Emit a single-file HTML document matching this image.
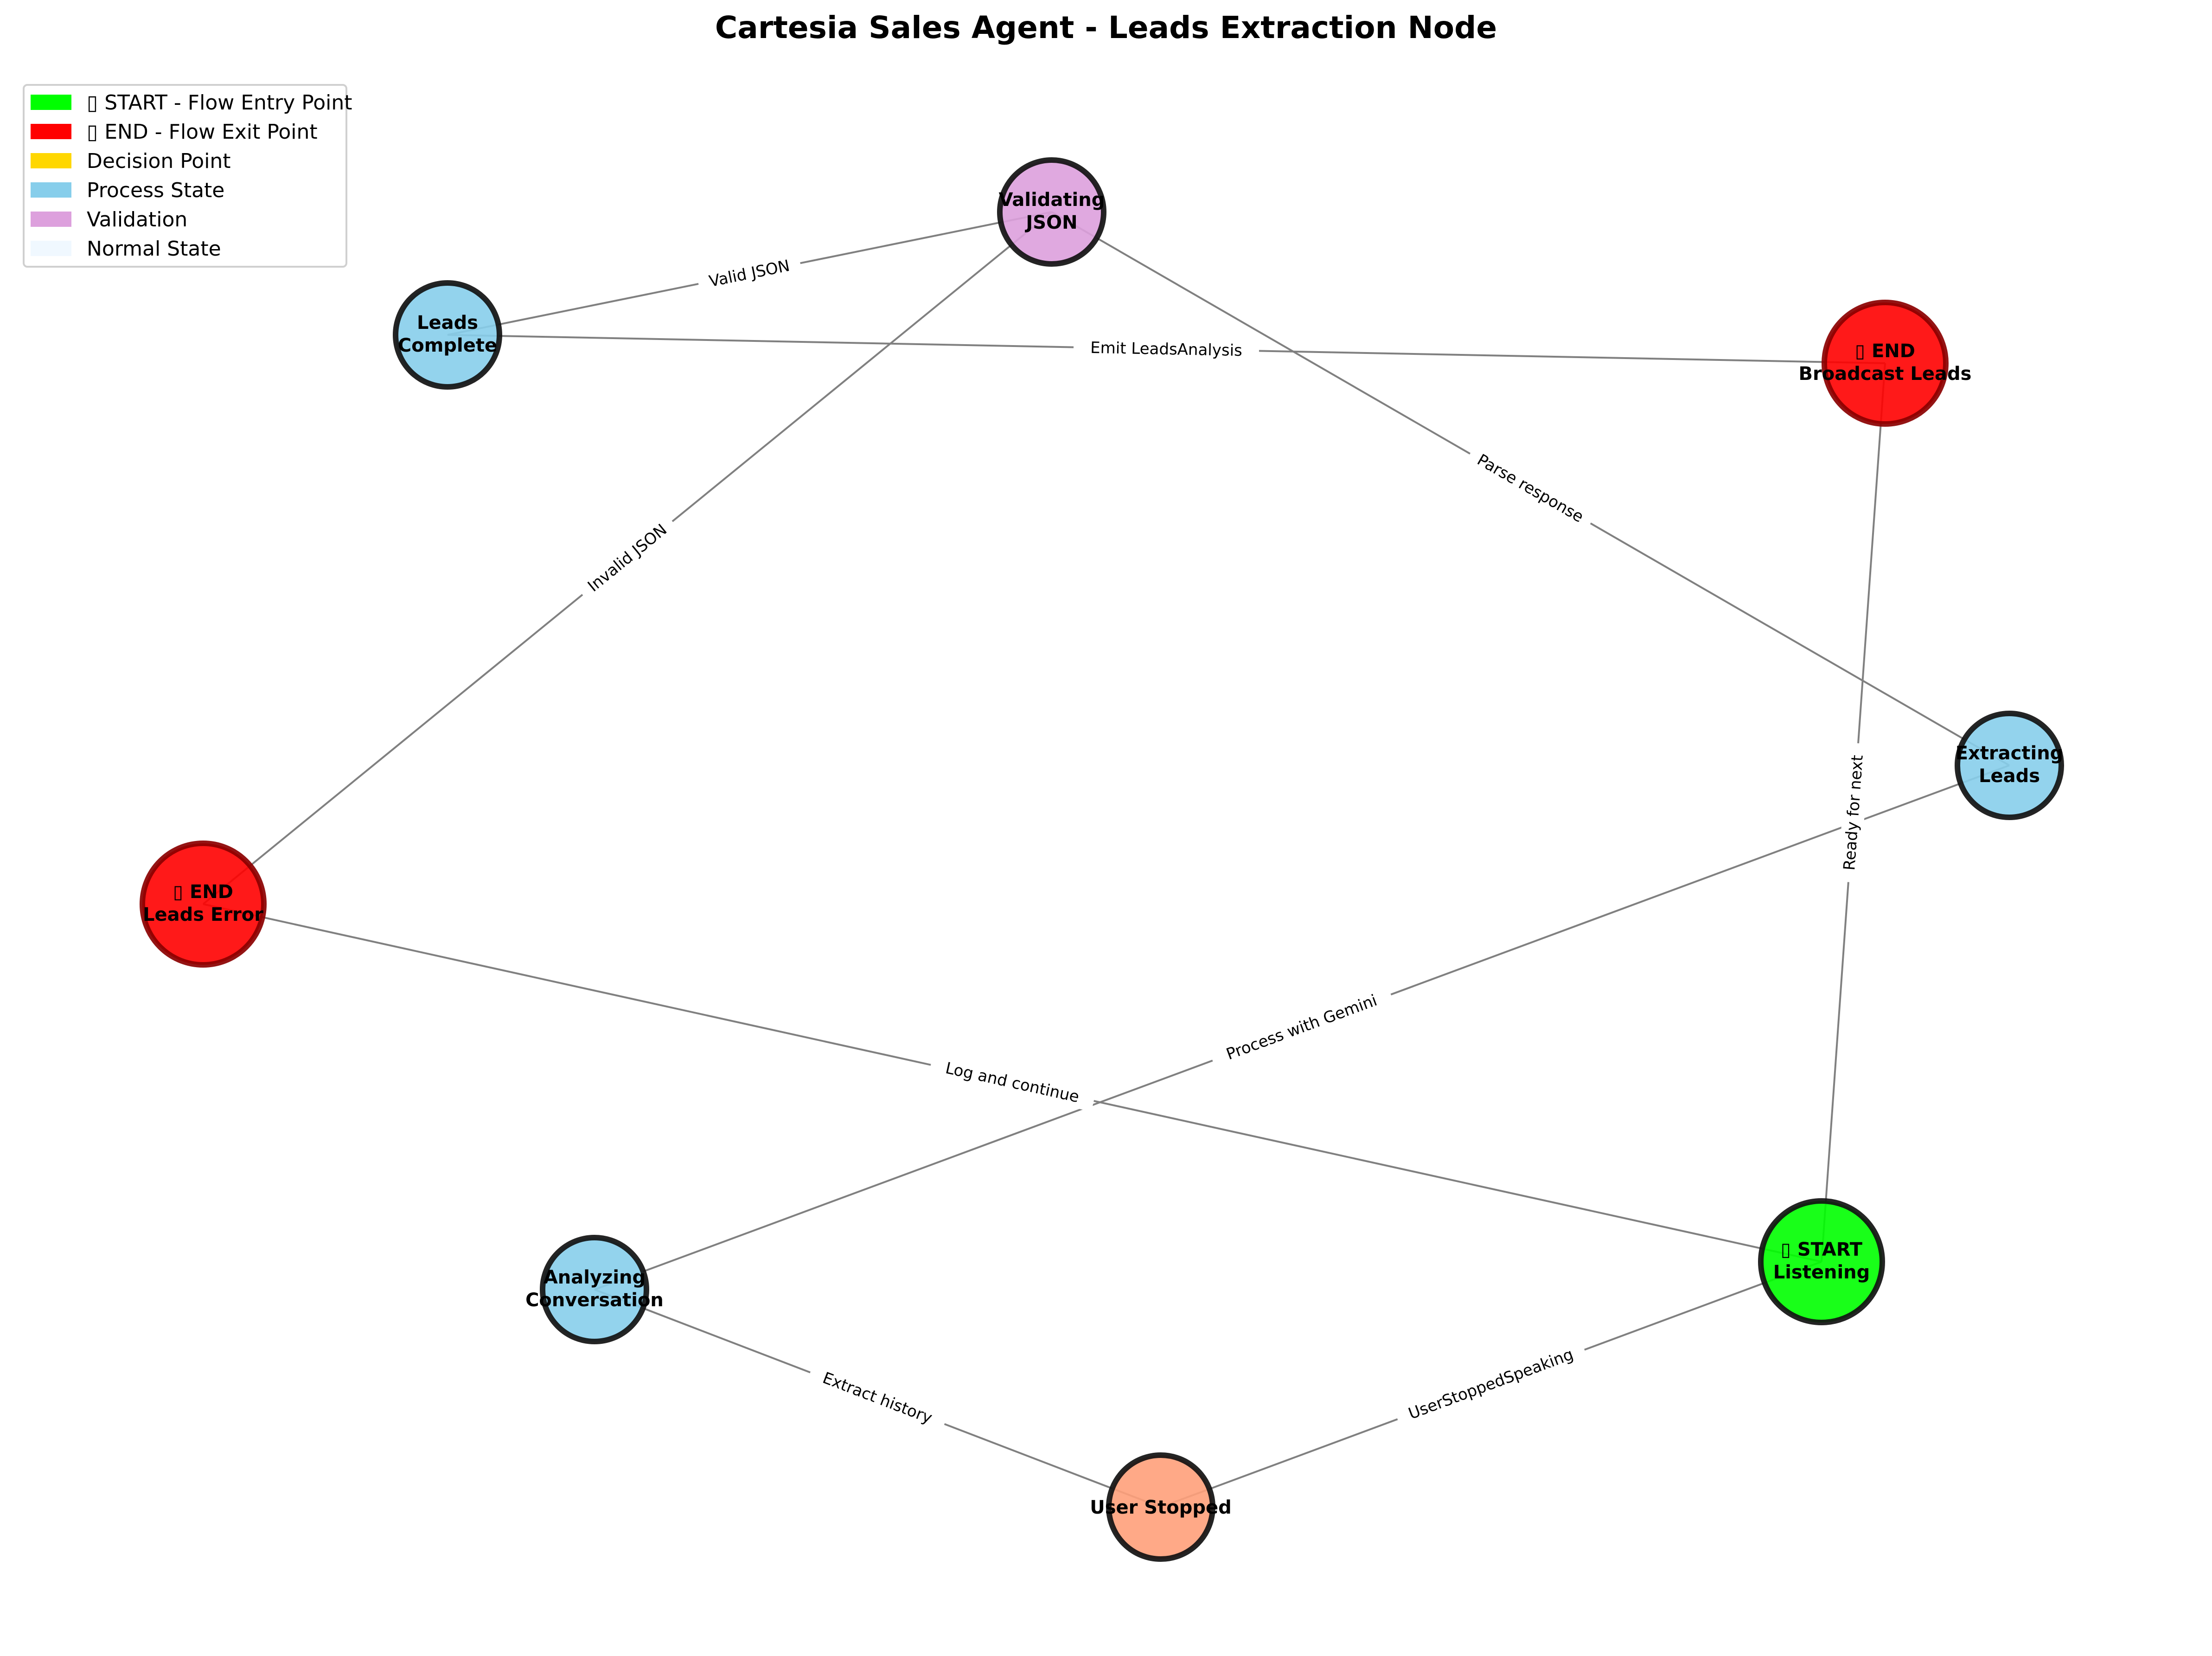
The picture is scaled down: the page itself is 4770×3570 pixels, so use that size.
<!DOCTYPE html>
<html><head><meta charset="utf-8"><style>
html,body{margin:0;padding:0;background:#fff;}
svg{display:block;}
text{font-family:"DejaVu Sans","Liberation Sans",sans-serif;}
.el{font-size:34px;fill:#000;}
.nl{font-size:40px;font-weight:bold;fill:#000;}
</style></head><body>
<svg width="4770" height="3570" viewBox="0 0 4770 3570" xmlns="http://www.w3.org/2000/svg">
<rect width="4770" height="3570" fill="#fff"/>
<text x="2385" y="82" text-anchor="middle" style="font-size:66px;font-weight:bold">Cartesia Sales Agent - Leads Extraction Node</text>

<g stroke="#808080" stroke-width="4" fill="none">
<line x1="965" y1="722" x2="2268" y2="457"/>
<line x1="965" y1="722" x2="4065" y2="783"/>
<line x1="2268" y1="457" x2="438" y2="1949"/>
<line x1="2268" y1="457" x2="4333" y2="1650"/>
<line x1="4065" y1="783" x2="3928" y2="2720"/>
<line x1="4333" y1="1650" x2="1282" y2="2780"/>
<line x1="438" y1="1949" x2="3928" y2="2720"/>
<line x1="1282" y1="2780" x2="2503" y2="3249"/>
<line x1="2503" y1="3249" x2="3928" y2="2720"/>
</g>

<g text-anchor="middle">
<g transform="translate(1616,590) rotate(-11.5)"><rect x="-112" y="-24" width="224" height="48" fill="#fff"/><text class="el" dominant-baseline="central">Valid JSON</text></g>
<g transform="translate(2515,753) rotate(1.1)"><rect x="-200" y="-24" width="400" height="48" fill="#fff"/><text class="el" dominant-baseline="central">Emit LeadsAnalysis</text></g>
<g transform="translate(1353,1203) rotate(-39.2)"><rect x="-125" y="-24" width="250" height="48" fill="#fff"/><text class="el" dominant-baseline="central">Invalid JSON</text></g>
<g transform="translate(3300,1053) rotate(30)"><rect x="-150" y="-24" width="300" height="48" fill="#fff"/><text class="el" dominant-baseline="central">Parse response</text></g>
<g transform="translate(3997,1752) rotate(-85.9)"><rect x="-150" y="-24" width="300" height="48" fill="#fff"/><text class="el" dominant-baseline="central">Ready for next</text></g>
<g transform="translate(2807,2215) rotate(-20.3)"><rect x="-205" y="-24" width="410" height="48" fill="#fff"/><text class="el" dominant-baseline="central">Process with Gemini</text></g>
<g transform="translate(2183,2334) rotate(12.5)"><rect x="-180" y="-24" width="360" height="48" fill="#fff"/><text class="el" dominant-baseline="central">Log and continue</text></g>
<g transform="translate(1892,3014) rotate(21)"><rect x="-155" y="-24" width="310" height="48" fill="#fff"/><text class="el" dominant-baseline="central">Extract history</text></g>
<g transform="translate(3215,2984) rotate(-20.4)"><rect x="-215" y="-24" width="430" height="48" fill="#fff"/><text class="el" dominant-baseline="central">UserStoppedSpeaking</text></g>
</g>

<g stroke-width="12">
<circle cx="2268" cy="457" r="112" fill="#dda0dd" fill-opacity="0.9" stroke="#111" stroke-opacity="0.92"/>
<circle cx="965" cy="722" r="112" fill="#87ceeb" fill-opacity="0.9" stroke="#111" stroke-opacity="0.92"/>
<circle cx="4065" cy="783" r="131" fill="#ff0000" fill-opacity="0.9" stroke="#8b0000" stroke-opacity="0.92"/>
<circle cx="4333" cy="1650" r="112" fill="#87ceeb" fill-opacity="0.9" stroke="#111" stroke-opacity="0.92"/>
<circle cx="438" cy="1949" r="131" fill="#ff0000" fill-opacity="0.9" stroke="#8b0000" stroke-opacity="0.92"/>
<circle cx="1282" cy="2780" r="112" fill="#87ceeb" fill-opacity="0.9" stroke="#111" stroke-opacity="0.92"/>
<circle cx="3928" cy="2720" r="131" fill="#00ff00" fill-opacity="0.9" stroke="#111" stroke-opacity="0.92"/>
<circle cx="2503" cy="3249" r="112" fill="#ffa07a" fill-opacity="0.9" stroke="#111" stroke-opacity="0.92"/>
</g>

<g text-anchor="middle">
<text class="nl" x="2268" y="444">Validating</text><text class="nl" x="2268" y="493">JSON</text>
<text class="nl" x="965" y="709">Leads</text><text class="nl" x="965" y="758">Complete</text>
<text class="nl" x="4065" y="770">▯ END</text><text class="nl" x="4065" y="819">Broadcast Leads</text>
<text class="nl" x="4333" y="1637">Extracting</text><text class="nl" x="4333" y="1686">Leads</text>
<text class="nl" x="438" y="1936">▯ END</text><text class="nl" x="438" y="1985">Leads Error</text>
<text class="nl" x="1282" y="2767">Analyzing</text><text class="nl" x="1282" y="2816">Conversation</text>
<text class="nl" x="3928" y="2707">▯ START</text><text class="nl" x="3928" y="2756">Listening</text>
<text class="nl" x="2503" y="3263">User Stopped</text>
</g>

<rect x="51" y="183" width="696" height="392" rx="8" fill="#fff" fill-opacity="0.8" stroke="#d0d0d0" stroke-width="4"/>
<rect x="66" y="204" width="88" height="33" fill="#00ff00"/>
<rect x="66" y="267" width="88" height="33" fill="#ff0000"/>
<rect x="66" y="330" width="88" height="33" fill="#ffd700"/>
<rect x="66" y="393" width="88" height="33" fill="#87ceeb"/>
<rect x="66" y="456" width="88" height="33" fill="#dda0dd"/>
<rect x="66" y="519" width="88" height="33" fill="#f0f8ff"/>
<g style="font-size:44px">
<text x="187" y="236">▯ START - Flow Entry Point</text>
<text x="187" y="299">▯ END - Flow Exit Point</text>
<text x="187" y="362">Decision Point</text>
<text x="187" y="425">Process State</text>
<text x="187" y="488">Validation</text>
<text x="187" y="551">Normal State</text>
</g>
</svg>
</body></html>
